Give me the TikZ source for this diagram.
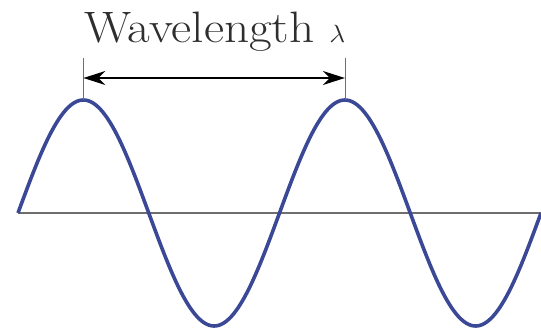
\documentclass[tikz,border=0pt]{standalone}
\usepackage{tikz}
\usetikzlibrary{arrows.meta,calc}
\definecolor{wavecol}{RGB}{58,72,150}
\definecolor{axiscol}{RGB}{110,110,110}
\begin{document}
\begin{tikzpicture}[x=1pt,y=1pt]
\useasboundingbox (0,0) rectangle (541,335);
% axis and wave
\coordinate (start) at (18,122);
\coordinate (stop) at (541,122);
\draw[axiscol,line width=1.8pt] (start) -- (stop);
\draw[wavecol,line width=3.6pt,line join=round] plot[domain=0:720,samples=241,smooth]
  ({18+\x/360*261.5},{122+113*sin(\x)});
% crests and marker
\coordinate (crestA) at (83.4,235);
\coordinate (crestB) at (344.9,235);
\coordinate (topA) at (83.4,277);
\coordinate (topB) at (344.9,277);
\coordinate (arrA) at (83.4,257);
\coordinate (arrB) at (344.9,257);
\draw[axiscol,line width=0.6pt] (crestA) -- (topA);
\draw[axiscol,line width=0.6pt] (crestB) -- (topB);
\draw[{Stealth[length=22pt,width=14pt,inset=7pt]}-{Stealth[length=22pt,width=14pt,inset=7pt]},line width=2pt] (arrA) -- (arrB);
\node[text=black!82,inner sep=0pt,anchor=base,xscale=1.12] (label) at (215,292) {\fontsize{44}{46}\selectfont Wavelength $\lambda$};
\end{tikzpicture}
\end{document}
